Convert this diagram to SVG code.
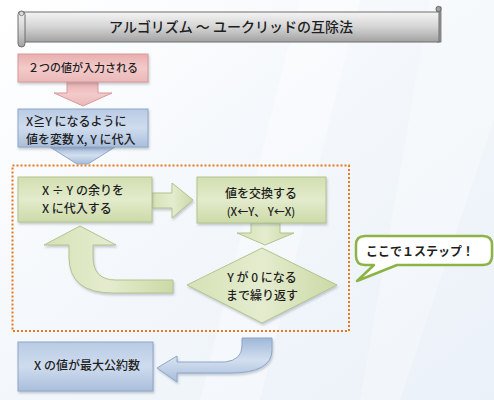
<svg xmlns="http://www.w3.org/2000/svg" width="494" height="400" viewBox="0 0 494 400">
  <defs>
    <linearGradient id="bg" x1="0" y1="0" x2="1" y2="1">
      <stop offset="0" stop-color="#ffffff"/>
      <stop offset="0.5" stop-color="#f3f7fb"/>
      <stop offset="1" stop-color="#eaf1f8"/>
    </linearGradient>
    <linearGradient id="gTitle" x1="0" y1="0" x2="0" y2="1">
      <stop offset="0" stop-color="#f4f4f4"/>
      <stop offset="0.5" stop-color="#d4d4d4"/>
      <stop offset="1" stop-color="#a2a2a2"/>
    </linearGradient>
    <linearGradient id="gPink" x1="0" y1="0" x2="0" y2="1">
      <stop offset="0" stop-color="#e9aeae"/>
      <stop offset="0.5" stop-color="#f3caca"/>
      <stop offset="1" stop-color="#eab8b8"/>
    </linearGradient>
    <linearGradient id="gBlue" x1="0" y1="0" x2="0" y2="1">
      <stop offset="0" stop-color="#b9cbe4"/>
      <stop offset="0.5" stop-color="#cfdcee"/>
      <stop offset="1" stop-color="#a9bedb"/>
    </linearGradient>
    <linearGradient id="gGreen" x1="0" y1="0" x2="0" y2="1">
      <stop offset="0" stop-color="#d2dfb0"/>
      <stop offset="0.5" stop-color="#e3ebcc"/>
      <stop offset="1" stop-color="#ccdaa8"/>
    </linearGradient>
    <linearGradient id="gGreenD" x1="0" y1="0" x2="1" y2="0">
      <stop offset="0" stop-color="#d6e2b6"/>
      <stop offset="0.5" stop-color="#e4ecce"/>
      <stop offset="1" stop-color="#cbd9a6"/>
    </linearGradient>
    <linearGradient id="gBlueArrow" x1="0" y1="0" x2="0" y2="1">
      <stop offset="0" stop-color="#9fb7d8"/>
      <stop offset="0.5" stop-color="#d3dfef"/>
      <stop offset="1" stop-color="#a5bbda"/>
    </linearGradient>
    <filter id="sh" x="-10%" y="-10%" width="130%" height="140%">
      <feDropShadow dx="1" dy="2" stdDeviation="1.2" flood-color="#6a7a8a" flood-opacity="0.35"/>
    </filter>
  </defs>
  <style>
    text { font-family: "Noto Sans CJK JP", "Noto Sans", sans-serif; fill: #1e1e1e; font-weight: 500; }
    .t14 { font-size: 14px; }
    .t12 { font-size: 12px; }
    .t11 { font-size: 11px; }
    .c { text-anchor: middle; }
    .pink { fill: url(#gPink); stroke: #d79999; stroke-width: 1; }
    .blue { fill: url(#gBlue); stroke: #8ea6c8; stroke-width: 1; }
    .green { fill: url(#gGreen); stroke: #b3c38e; stroke-width: 1; }
    .greenArr { fill: url(#gGreenD); stroke: #b3c38e; stroke-width: 1; }
    .blueArr { fill: url(#gBlueArrow); stroke: #8ea6c8; stroke-width: 1; }
  </style>

  <rect x="0" y="0" width="494" height="400" fill="url(#bg)"/>
  <path d="M300 0 L360 0 L260 400 L200 400 Z" fill="#ffffff" opacity="0.35"/>
  <path d="M430 0 L494 0 L494 120 L400 400 L360 400 Z" fill="#ffffff" opacity="0.3"/>

  <g id="title">
    <rect x="437" y="7" width="4" height="35" fill="#9a9a9a" stroke="#6c6c6c" stroke-width="0.8"/>
    <circle cx="438.5" cy="9" r="2.6" fill="#a0a0a0" stroke="#606060" stroke-width="0.8"/>
    <rect x="22" y="12" width="417" height="30" fill="url(#gTitle)" stroke="#6e6e6e" stroke-width="1"/>
    <rect x="18" y="11" width="7" height="36" rx="3.5" fill="url(#gTitle)" stroke="#6e6e6e" stroke-width="1"/>
    <circle cx="21.5" cy="13.5" r="2.2" fill="#e0e0e0" stroke="#6e6e6e" stroke-width="0.8"/>
    <text class="t14 c" x="231" y="32">アルゴリズム ～ ユークリッドの互除法</text>
  </g>

  <g id="connectors">
    <path class="pink" d="M67 82 L98 82 L98 93 L112 93 L83 106 L54 93 L67 93 Z"/>
    <path class="blueArr" d="M50 147 L115 147 L88 164 L77 164 Z"/>
    <path class="greenArr" d="M152 193 L172 193 L172 183 L193 200 L172 218 L172 208 L152 208 Z" filter="url(#sh)"/>
    <path class="greenArr" d="M251 223 L280 223 L280 233 L294 233 L265 245 L237 233 L251 233 Z"/>
    <path class="greenArr" d="M80 226 L116 245 L93 245 L93 257 Q93 280 116 280 L173 280 L173 293 L113 293 Q69 293 69 257 L69 245 L44 245 Z" filter="url(#sh)"/>
    <path class="blueArr" d="M157 368 L177 356 L177 362 L225 362 Q242 360 242 346 L242 338 L272 338 L272 350 Q272 373 230 373 L177 373 L177 382 Z" filter="url(#sh)"/>
  </g>

  <g id="input">
    <rect class="pink" x="18" y="54" width="130" height="28" filter="url(#sh)"/>
    <text class="t11 c" x="83" y="72">２つの値が入力される</text>
  </g>

  <g id="assign">
    <rect class="blue" x="18" y="109" width="130" height="38" filter="url(#sh)"/>
    <text class="t12" x="26" y="126">X≧Y になるように</text>
    <text class="t12" x="26" y="144">値を変数 X, Y に代入</text>
  </g>

  <g id="loop">
    <rect x="12.5" y="165.5" width="336.5" height="165.5" fill="none" stroke="#e8781e" stroke-width="2" stroke-dasharray="2 2"/>
  </g>

  <g id="mod">
    <rect class="green" x="18" y="177" width="134" height="45" filter="url(#sh)"/>
    <text class="t12" x="42" y="195">X ÷ Y の余りを</text>
    <text class="t12" x="42" y="213">X に代入する</text>
  </g>

  <g id="swap">
    <rect class="green" x="197" y="177" width="129" height="46" filter="url(#sh)"/>
    <text class="t12 c" x="261" y="198">値を交換する</text>
    <text class="t11 c" x="261" y="216">(X←Y、 Y←X)</text>
  </g>

  <g id="repeat">
    <path class="greenArr" d="M262 248 L337 285 L262 323 L187 285 Z" filter="url(#sh)"/>
    <text class="t12 c" x="262" y="282">Y が 0 になる</text>
    <text class="t12 c" x="262" y="300">まで繰り返す</text>
  </g>

  <g id="note">
    <path d="M365 236 L483 236 Q492 236 492 245 L492 256 Q492 265 483 265 L397 265 L357 281 L374 265 L365 265 Q356 265 356 256 L356 245 Q356 236 365 236 Z" fill="#ffffff" stroke="#8db347" stroke-width="2.5" stroke-linejoin="round"/>
    <text class="t12 c" x="420" y="256" style="font-weight:700">ここで１ステップ！</text>
  </g>

  <g id="result">
    <rect class="blue" x="18" y="342" width="135" height="49" filter="url(#sh)"/>
    <text class="t12 c" x="87" y="370">X の値が最大公約数</text>
  </g>
</svg>
